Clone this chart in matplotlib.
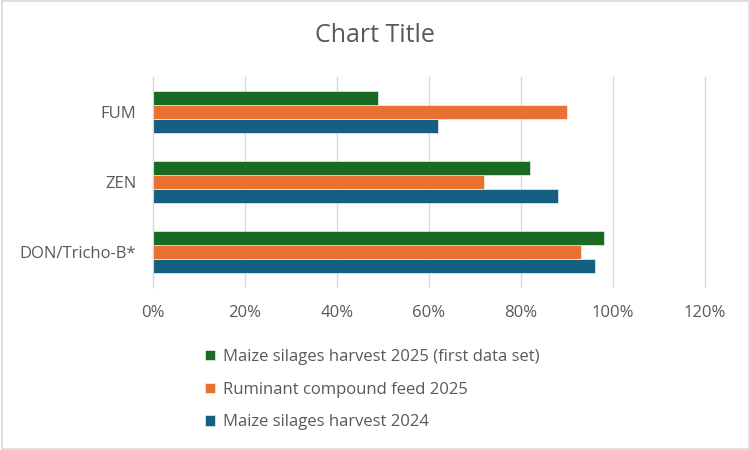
import matplotlib
matplotlib.use("Agg")
import matplotlib.pyplot as plt
import numpy as np
from matplotlib.patches import Rectangle
from matplotlib.ticker import PercentFormatter

plt.rcParams['font.family'] = ['Open Sans', 'DejaVu Sans']

categories = ["DON/Tricho-B*", "ZEN", "FUM"]
series_names = ["Maize silages harvest 2024",
                "Ruminant compound feed 2025",
                "Maize silages harvest 2025 (first data set)"]
maize_2024 = [96, 88, 62]
compound_2025 = [93, 72, 90]
maize_2025 = [98, 82, 49]
colors = ["#156082", "#E97132", "#196B24"]

fig = plt.figure(figsize=(7.5, 4.5), dpi=100)
ax = fig.add_axes([153 / 750, 1 - 287 / 450, 552 / 750, 210 / 450])

y = np.arange(len(categories))
h = 0.2
values = [maize_2024, compound_2025, maize_2025]
bars = []
for i, (vals, name, col) in enumerate(zip(values, series_names, colors)):
    b = ax.barh(y + (i - 1) * h, vals, height=h, color=col, label=name,
                edgecolor="white", linewidth=0.4)
    bars.append(b)

ax.set_xlim(0, 120)
ax.set_ylim(-0.5, 2.5)
ax.set_xticks(np.arange(0, 121, 20))
ax.xaxis.set_major_formatter(PercentFormatter(decimals=0))
ax.set_yticks(y)
ax.set_yticklabels(categories)
ax.grid(axis="x", color="#d9d9d9", linewidth=1)
for gl in ax.get_xgridlines():
    gl.set_clip_on(False)
ax.set_axisbelow(True)
for s in ["top", "right", "bottom"]:
    ax.spines[s].set_visible(False)
ax.spines["left"].set_color("#d9d9d9")
ax.tick_params(axis="both", length=0, labelsize=12, labelcolor="#595959")
ax.tick_params(axis="x", pad=13)
ax.tick_params(axis="y", pad=12)

fig.text(0.5, 1 - 35 / 450, "Chart Title", ha="center", va="center",
         fontsize=18, color="#595959")

handles = [bars[2], bars[1], bars[0]]
labels = [series_names[2], series_names[1], series_names[0]]
fig.legend(handles, labels, loc="upper left",
           bbox_to_anchor=(190 / 750, 1 - 334 / 450), frameon=False,
           fontsize=12, labelcolor="#595959", handlelength=0.6,
           handleheight=0.6, handletextpad=0.5, labelspacing=1.0)

fig.patches.append(Rectangle((0.002, 0.002), 0.996, 0.996, transform=fig.transFigure,
                             fill=False, edgecolor="#d9d9d9", linewidth=1.2))

fig.savefig("out.png", dpi=100)
